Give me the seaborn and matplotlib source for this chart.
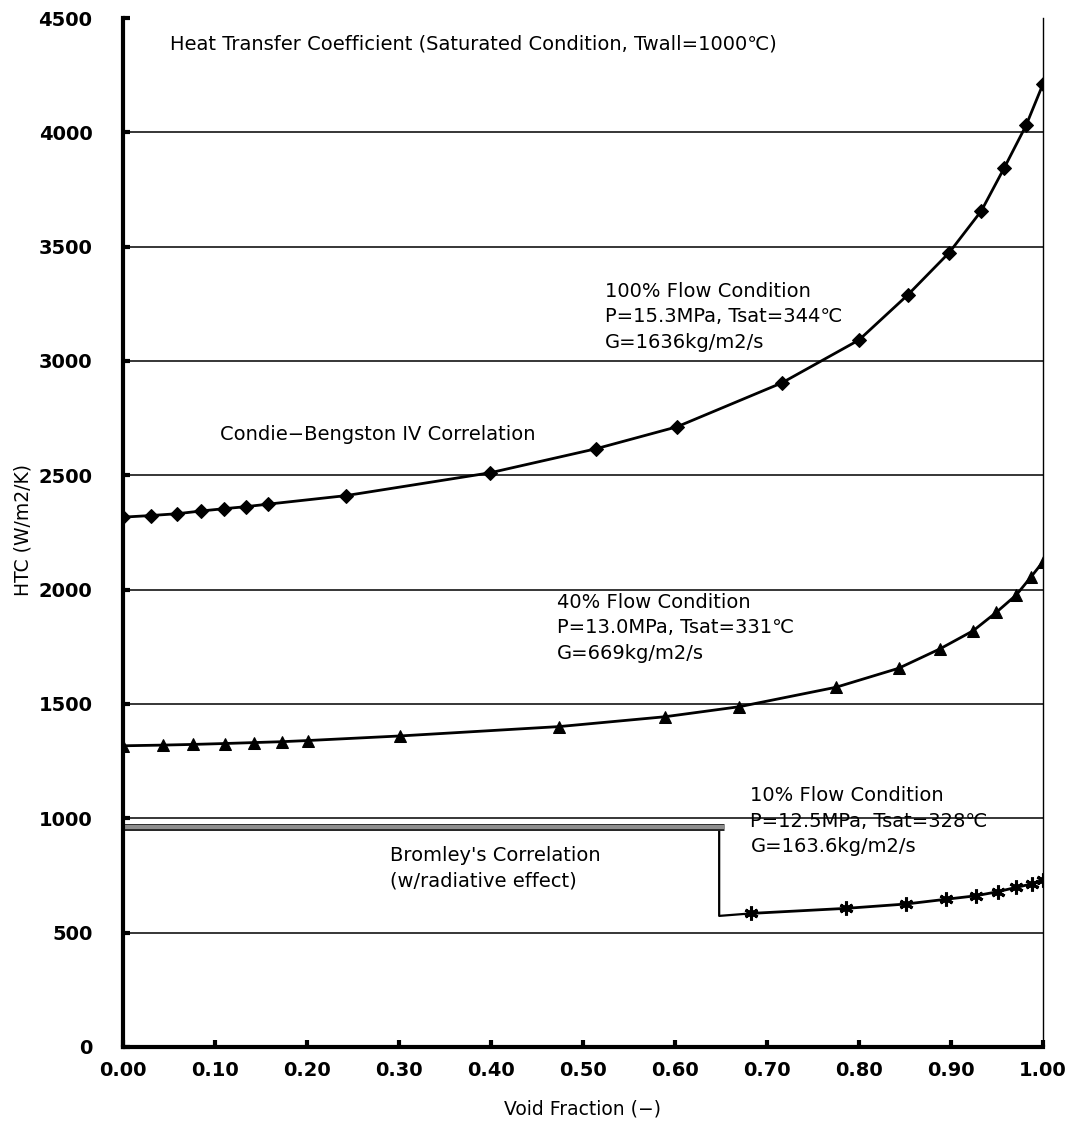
import matplotlib
matplotlib.use("Agg")
import matplotlib.pyplot as plt
import matplotlib.patheffects as pe
import seaborn as sns
import pandas as pd

# Condie-Bengston IV, 100 % flow
void_100 = [0.0, 0.03, 0.059, 0.085, 0.11, 0.134, 0.158, 0.242, 0.399, 0.514,
            0.602, 0.716, 0.80, 0.853, 0.898, 0.933, 0.958, 0.9815, 1.0]
htc_100 = [2317, 2324, 2332, 2344, 2354, 2363, 2374, 2411, 2511, 2616,
           2712, 2904, 3092, 3289, 3474, 3657, 3846, 4030, 4212]

# Condie-Bengston IV, 40 % flow
void_40 = [0.0, 0.043, 0.076, 0.111, 0.142, 0.173, 0.201, 0.301, 0.474, 0.589,
           0.670, 0.775, 0.843, 0.888, 0.924, 0.949, 0.971, 0.987, 1.0]
htc_40 = [1317, 1320, 1323, 1327, 1331, 1335, 1340, 1360, 1401, 1444,
          1488, 1573, 1656, 1741, 1820, 1900, 1977, 2056, 2122]

# Condie-Bengston IV, 10 % flow
void_10 = [0.683, 0.786, 0.851, 0.895, 0.927, 0.951, 0.971, 0.988, 1.0]
htc_10 = [584, 606, 625, 646, 661, 679, 698, 713, 730]

# Bromley's correlation (film boiling, with radiation)
void_bromley = [0.0, 0.653]
htc_bromley = [963, 963]
void_step = [0.648, 0.648, 0.683]
htc_step = [963, 573, 584]

x_ticks = [0.0, 0.1, 0.2, 0.3, 0.4, 0.5, 0.6, 0.7, 0.8, 0.9, 1.0]
y_ticks = [0, 500, 1000, 1500, 2000, 2500, 3000, 3500, 4000, 4500]

sns.set_theme(style="white")
plt.rcParams["font.family"] = ["DejaVu Sans", "Noto Sans CJK JP"]

fig = plt.figure(figsize=(10.71, 11.34), dpi=100)
ax = fig.add_axes([0.1148, 0.0768, 0.9739 - 0.1148, 0.9841 - 0.0768])

for yv in y_ticks[1:-1]:
    ax.axhline(yv, color="black", lw=1.1, zorder=1)

line_kw = dict(color="black", linewidth=2.0, markeredgecolor="black",
               markerfacecolor="black", legend=False, sort=False,
               estimator=None, ax=ax)

df100 = pd.DataFrame({"void": void_100, "htc": htc_100})
df40 = pd.DataFrame({"void": void_40, "htc": htc_40})
df10 = pd.DataFrame({"void": void_10, "htc": htc_10})

sns.lineplot(data=df100, x="void", y="htc", marker="D", markersize=7, **line_kw)
sns.lineplot(data=df40, x="void", y="htc", marker="^", markersize=8, **line_kw)
sns.lineplot(data=df10, x="void", y="htc", marker=(6, 2, 0), markersize=10,
             markeredgewidth=2.2, **line_kw)

# Bromley band and step down to the 10 % curve
sns.lineplot(x=void_step, y=htc_step, color="black", linewidth=1.6,
             sort=False, estimator=None, ax=ax, legend=False)
sns.lineplot(x=void_bromley, y=htc_bromley, color="#8e8e8e", linewidth=3.0,
             sort=False, estimator=None, ax=ax, legend=False)
band = ax.lines[-1]
band.set_path_effects([pe.Stroke(linewidth=5.0, foreground="#222222"),
                       pe.Normal()])
band.set_solid_capstyle("butt")

ax.set_xlim(0, 1.0)
ax.set_ylim(0, 4500)
ax.set_xticks(x_ticks)
ax.set_xticklabels([f"{v:.2f}" for v in x_ticks])
ax.set_yticks(y_ticks)
ax.set_yticklabels([str(v) for v in y_ticks])
ax.tick_params(axis="both", direction="in", length=5, width=3, color="black",
               labelsize=14, labelcolor="black")
ax.tick_params(axis="x", pad=10, bottom=True)
ax.tick_params(axis="y", pad=22, left=True)
for lab in ax.get_xticklabels() + ax.get_yticklabels():
    lab.set_fontweight("bold")

ax.spines["left"].set_linewidth(3.0)
ax.spines["bottom"].set_linewidth(3.0)
ax.spines["right"].set_linewidth(1.0)
ax.spines["top"].set_visible(False)
for s in ("left", "bottom", "right"):
    ax.spines[s].set_color("black")

ax.set_xlabel("Void Fraction (−)", fontsize=13.5, color="black", labelpad=14)
ax.set_ylabel("HTC (W/m2/K)", fontsize=13.5, color="black")
ax.yaxis.set_label_coords(-0.098, 0.502)

txt_kw = dict(fontsize=14, color="black", ha="left", va="top", linespacing=1.42)
ax.text(0.051, 4430, "Heat Transfer Coefficient (Saturated Condition, Twall=1000℃)", **txt_kw)
ax.text(0.524, 3345, "100% Flow Condition\nP=15.3MPa, Tsat=344℃\nG=1636kg/m2/s", **txt_kw)
ax.text(0.105, 2720, "Condie−Bengston IV Correlation", **txt_kw)
ax.text(0.472, 1985, "40% Flow Condition\nP=13.0MPa, Tsat=331℃\nG=669kg/m2/s", **txt_kw)
ax.text(0.682, 1140, "10% Flow Condition\nP=12.5MPa, Tsat=328℃\nG=163.6kg/m2/s", **txt_kw)
ax.text(0.29, 880, "Bromley's Correlation\n(w/radiative effect)", **txt_kw)

fig.savefig("out.png", dpi=100)
